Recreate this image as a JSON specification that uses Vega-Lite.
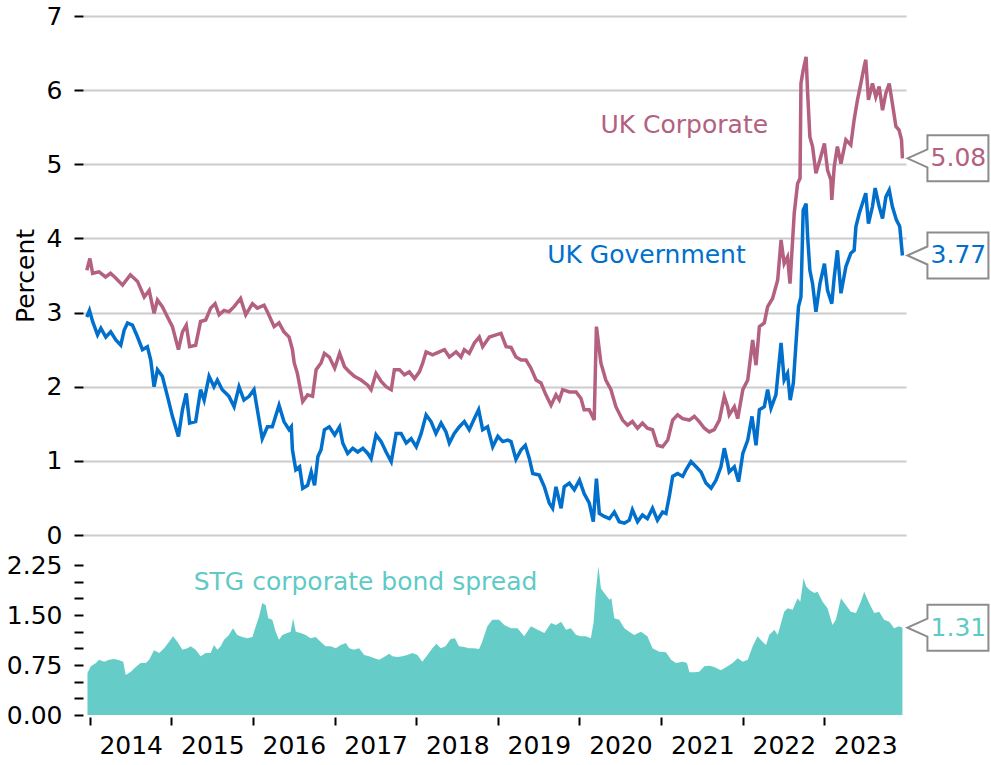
{
  "$schema": "https://vega.github.io/schema/vega-lite/v6.json",
  "background": "white",
  "padding": {"left": 6, "top": 4, "right": 0, "bottom": 0},
  "bounds": "flush",
  "spacing": 30,
  "config": {
    "view": {"stroke": null},
    "font": "DejaVu Sans",
    "axis": {
      "domain": false,
      "tickColor": "black",
      "tickWidth": 2,
      "labelColor": "black",
      "labelFontSize": 25,
      "titleColor": "black",
      "titleFontSize": 25,
      "titleFontWeight": "normal",
      "grid": false
    }
  },
  "datasets": {
    "corp": [
      {"date":"2013-12-19","value":3.57},{"date":"2014-01-02","value":3.73},{"date":"2014-01-14","value":3.53},{"date":"2014-02-12","value":3.55},{"date":"2014-03-13","value":3.48},{"date":"2014-04-04","value":3.53},{"date":"2014-04-26","value":3.47},{"date":"2014-05-28","value":3.37},{"date":"2014-07-02","value":3.51},{"date":"2014-08-03","value":3.42},{"date":"2014-09-02","value":3.21},{"date":"2014-09-24","value":3.30},{"date":"2014-10-16","value":2.99},{"date":"2014-10-31","value":3.17},{"date":"2014-11-22","value":3.08},{"date":"2014-12-15","value":2.94},
      {"date":"2015-01-06","value":2.81},{"date":"2015-02-02","value":2.50},{"date":"2015-02-20","value":2.74},{"date":"2015-03-09","value":2.83},{"date":"2015-03-24","value":2.54},{"date":"2015-04-20","value":2.56},{"date":"2015-05-12","value":2.88},{"date":"2015-06-04","value":2.90},{"date":"2015-06-26","value":3.06},{"date":"2015-07-16","value":3.12},{"date":"2015-08-03","value":2.97},{"date":"2015-08-25","value":3.03},{"date":"2015-09-16","value":3.01},{"date":"2015-10-09","value":3.08},{"date":"2015-11-07","value":3.19},{"date":"2015-11-30","value":2.97},{"date":"2015-12-30","value":3.12},
      {"date":"2016-01-21","value":3.06},{"date":"2016-02-20","value":3.10},{"date":"2016-03-06","value":3.01},{"date":"2016-04-05","value":2.81},{"date":"2016-04-27","value":2.86},{"date":"2016-05-19","value":2.74},{"date":"2016-06-11","value":2.67},{"date":"2016-06-26","value":2.50},{"date":"2016-07-04","value":2.32},{"date":"2016-07-18","value":2.18},{"date":"2016-08-11","value":1.80},{"date":"2016-09-02","value":1.89},{"date":"2016-09-24","value":1.87},{"date":"2016-10-10","value":2.23},{"date":"2016-11-01","value":2.32},{"date":"2016-11-16","value":2.45},{"date":"2016-12-08","value":2.40},
      {"date":"2017-01-01","value":2.25},{"date":"2017-01-23","value":2.45},{"date":"2017-02-14","value":2.27},{"date":"2017-03-08","value":2.20},{"date":"2017-03-30","value":2.14},{"date":"2017-04-29","value":2.09},{"date":"2017-05-29","value":2.02},{"date":"2017-06-13","value":1.96},{"date":"2017-07-05","value":2.18},{"date":"2017-07-28","value":2.07},{"date":"2017-08-19","value":2.00},{"date":"2017-09-11","value":1.96},{"date":"2017-09-25","value":2.23},{"date":"2017-10-18","value":2.23},{"date":"2017-11-09","value":2.16},{"date":"2017-12-01","value":2.20},{"date":"2017-12-24","value":2.11},
      {"date":"2018-01-15","value":2.20},{"date":"2018-01-30","value":2.32},{"date":"2018-02-14","value":2.47},{"date":"2018-03-15","value":2.43},{"date":"2018-04-14","value":2.47},{"date":"2018-05-07","value":2.50},{"date":"2018-05-29","value":2.40},{"date":"2018-06-28","value":2.47},{"date":"2018-07-20","value":2.40},{"date":"2018-08-04","value":2.50},{"date":"2018-08-26","value":2.45},{"date":"2018-09-18","value":2.59},{"date":"2018-10-10","value":2.67},{"date":"2018-10-25","value":2.54},{"date":"2018-11-24","value":2.67},{"date":"2018-12-24","value":2.70},
      {"date":"2019-01-15","value":2.72},{"date":"2019-02-07","value":2.54},{"date":"2019-03-01","value":2.53},{"date":"2019-03-23","value":2.40},{"date":"2019-04-15","value":2.36},{"date":"2019-05-07","value":2.36},{"date":"2019-05-29","value":2.25},{"date":"2019-06-21","value":2.09},{"date":"2019-07-13","value":2.05},{"date":"2019-08-04","value":1.89},{"date":"2019-08-27","value":1.75},{"date":"2019-09-18","value":1.89},{"date":"2019-10-03","value":1.82},{"date":"2019-10-18","value":1.96},{"date":"2019-11-17","value":1.93},{"date":"2019-12-17","value":1.93},
      {"date":"2020-01-08","value":1.84},{"date":"2020-01-22","value":1.69},{"date":"2020-02-14","value":1.69},{"date":"2020-02-28","value":1.60},{"date":"2020-03-07","value":1.55},{"date":"2020-03-17","value":2.81},{"date":"2020-04-06","value":2.32},{"date":"2020-04-28","value":2.09},{"date":"2020-05-21","value":1.96},{"date":"2020-06-12","value":1.73},{"date":"2020-07-12","value":1.55},{"date":"2020-08-03","value":1.48},{"date":"2020-08-25","value":1.53},{"date":"2020-09-17","value":1.44},{"date":"2020-10-09","value":1.51},{"date":"2020-10-31","value":1.44},{"date":"2020-11-23","value":1.42},{"date":"2020-12-15","value":1.21},
      {"date":"2021-01-07","value":1.19},{"date":"2021-01-30","value":1.28},{"date":"2021-02-21","value":1.55},{"date":"2021-03-15","value":1.62},{"date":"2021-04-07","value":1.57},{"date":"2021-05-07","value":1.55},{"date":"2021-05-29","value":1.60},{"date":"2021-06-20","value":1.53},{"date":"2021-07-13","value":1.44},{"date":"2021-08-04","value":1.39},{"date":"2021-08-26","value":1.42},{"date":"2021-09-18","value":1.55},{"date":"2021-10-10","value":1.87},{"date":"2021-10-25","value":1.73},{"date":"2021-11-01","value":1.62},{"date":"2021-11-24","value":1.73},{"date":"2021-12-09","value":1.57},
      {"date":"2022-01-01","value":1.96},{"date":"2022-01-23","value":2.09},{"date":"2022-02-14","value":2.63},{"date":"2022-03-01","value":2.29},{"date":"2022-03-16","value":2.81},{"date":"2022-04-07","value":2.86},{"date":"2022-04-22","value":3.08},{"date":"2022-05-14","value":3.19},{"date":"2022-06-06","value":3.44},{"date":"2022-06-21","value":3.98},{"date":"2022-07-05","value":3.66},{"date":"2022-07-20","value":3.75},{"date":"2022-07-31","value":3.39},{"date":"2022-08-19","value":4.34},{"date":"2022-09-03","value":4.74},{"date":"2022-09-14","value":4.81},{"date":"2022-09-18","value":6.09},{"date":"2022-09-28","value":6.27},{"date":"2022-10-11","value":6.45},{"date":"2022-10-18","value":5.96},{"date":"2022-10-28","value":5.37},{"date":"2022-11-09","value":5.24},{"date":"2022-11-24","value":4.88},{"date":"2022-12-12","value":5.06},
      {"date":"2023-01-01","value":5.28},{"date":"2023-01-15","value":4.92},{"date":"2023-01-30","value":4.79},{"date":"2023-02-03","value":4.52},{"date":"2023-02-14","value":4.97},{"date":"2023-02-28","value":5.24},{"date":"2023-03-16","value":5.01},{"date":"2023-04-07","value":5.33},{"date":"2023-04-29","value":5.26},{"date":"2023-05-14","value":5.60},{"date":"2023-05-29","value":5.87},{"date":"2023-06-13","value":6.09},{"date":"2023-06-28","value":6.32},{"date":"2023-07-05","value":6.41},{"date":"2023-07-17","value":5.87},{"date":"2023-08-04","value":6.09},{"date":"2023-08-19","value":5.91},{"date":"2023-09-03","value":6.05},{"date":"2023-09-18","value":5.73},{"date":"2023-10-03","value":5.96},{"date":"2023-10-18","value":6.09},{"date":"2023-11-01","value":5.82},{"date":"2023-11-17","value":5.51},{"date":"2023-12-01","value":5.46},{"date":"2023-12-12","value":5.33},{"date":"2023-12-16","value":5.08}
    ],
    "gov": [
      {"date":"2013-12-19","value":2.94},{"date":"2013-12-31","value":3.03},{"date":"2014-01-14","value":2.88},{"date":"2014-02-05","value":2.70},{"date":"2014-02-20","value":2.79},{"date":"2014-03-14","value":2.67},{"date":"2014-04-05","value":2.74},{"date":"2014-04-28","value":2.63},{"date":"2014-05-20","value":2.56},{"date":"2014-06-04","value":2.76},{"date":"2014-06-19","value":2.86},{"date":"2014-07-11","value":2.83},{"date":"2014-08-03","value":2.67},{"date":"2014-08-25","value":2.50},{"date":"2014-09-16","value":2.54},{"date":"2014-10-01","value":2.36},{"date":"2014-10-16","value":2.00},{"date":"2014-10-31","value":2.23},{"date":"2014-11-22","value":2.14},{"date":"2014-12-15","value":1.87},
      {"date":"2015-01-06","value":1.60},{"date":"2015-02-02","value":1.33},{"date":"2015-02-20","value":1.69},{"date":"2015-03-09","value":1.91},{"date":"2015-03-24","value":1.51},{"date":"2015-04-20","value":1.53},{"date":"2015-05-12","value":1.96},{"date":"2015-05-28","value":1.82},{"date":"2015-06-19","value":2.14},{"date":"2015-07-11","value":2.00},{"date":"2015-07-26","value":2.09},{"date":"2015-08-17","value":1.96},{"date":"2015-09-16","value":1.87},{"date":"2015-10-09","value":1.73},{"date":"2015-10-31","value":2.00},{"date":"2015-11-22","value":1.82},{"date":"2015-12-15","value":1.87},
      {"date":"2016-01-06","value":1.96},{"date":"2016-01-21","value":1.69},{"date":"2016-02-12","value":1.30},{"date":"2016-03-06","value":1.46},{"date":"2016-03-28","value":1.46},{"date":"2016-04-27","value":1.75},{"date":"2016-05-19","value":1.53},{"date":"2016-06-11","value":1.42},{"date":"2016-06-21","value":1.46},{"date":"2016-06-26","value":1.15},{"date":"2016-07-11","value":0.88},{"date":"2016-07-28","value":0.92},{"date":"2016-08-11","value":0.63},{"date":"2016-09-02","value":0.67},{"date":"2016-09-18","value":0.85},{"date":"2016-10-03","value":0.67},{"date":"2016-10-18","value":1.06},{"date":"2016-11-01","value":1.15},{"date":"2016-11-16","value":1.42},{"date":"2016-12-08","value":1.46},
      {"date":"2017-01-01","value":1.35},{"date":"2017-01-23","value":1.46},{"date":"2017-02-06","value":1.24},{"date":"2017-02-28","value":1.10},{"date":"2017-03-23","value":1.17},{"date":"2017-04-14","value":1.12},{"date":"2017-05-07","value":1.17},{"date":"2017-05-29","value":1.10},{"date":"2017-06-13","value":1.03},{"date":"2017-07-05","value":1.35},{"date":"2017-07-28","value":1.26},{"date":"2017-08-19","value":1.12},{"date":"2017-09-11","value":0.99},{"date":"2017-10-03","value":1.37},{"date":"2017-10-25","value":1.37},{"date":"2017-11-17","value":1.24},{"date":"2017-12-09","value":1.30},
      {"date":"2018-01-01","value":1.19},{"date":"2018-01-23","value":1.37},{"date":"2018-02-14","value":1.62},{"date":"2018-03-08","value":1.53},{"date":"2018-03-30","value":1.37},{"date":"2018-04-22","value":1.51},{"date":"2018-05-14","value":1.39},{"date":"2018-05-29","value":1.24},{"date":"2018-06-20","value":1.37},{"date":"2018-07-13","value":1.46},{"date":"2018-08-04","value":1.53},{"date":"2018-08-26","value":1.42},{"date":"2018-09-18","value":1.57},{"date":"2018-10-07","value":1.69},{"date":"2018-10-25","value":1.42},{"date":"2018-11-16","value":1.46},{"date":"2018-12-09","value":1.19},
      {"date":"2019-01-01","value":1.33},{"date":"2019-01-23","value":1.26},{"date":"2019-02-14","value":1.28},{"date":"2019-03-01","value":1.26},{"date":"2019-03-23","value":1.02},{"date":"2019-04-15","value":1.15},{"date":"2019-05-04","value":1.21},{"date":"2019-05-22","value":1.03},{"date":"2019-06-06","value":0.83},{"date":"2019-07-05","value":0.81},{"date":"2019-07-28","value":0.65},{"date":"2019-08-19","value":0.43},{"date":"2019-09-03","value":0.36},{"date":"2019-09-18","value":0.65},{"date":"2019-10-11","value":0.36},{"date":"2019-10-25","value":0.65},{"date":"2019-11-17","value":0.70},{"date":"2019-12-09","value":0.61},
      {"date":"2020-01-01","value":0.74},{"date":"2020-01-22","value":0.56},{"date":"2020-02-14","value":0.43},{"date":"2020-03-03","value":0.18},{"date":"2020-03-17","value":0.76},{"date":"2020-03-30","value":0.29},{"date":"2020-04-21","value":0.25},{"date":"2020-05-14","value":0.22},{"date":"2020-06-05","value":0.31},{"date":"2020-06-27","value":0.18},{"date":"2020-07-20","value":0.16},{"date":"2020-08-11","value":0.20},{"date":"2020-08-25","value":0.34},{"date":"2020-09-17","value":0.18},{"date":"2020-10-09","value":0.27},{"date":"2020-10-31","value":0.22},{"date":"2020-11-23","value":0.36},{"date":"2020-12-15","value":0.20},
      {"date":"2021-01-07","value":0.31},{"date":"2021-01-22","value":0.29},{"date":"2021-02-06","value":0.52},{"date":"2021-02-21","value":0.79},{"date":"2021-03-15","value":0.83},{"date":"2021-04-07","value":0.79},{"date":"2021-04-22","value":0.88},{"date":"2021-05-14","value":0.99},{"date":"2021-06-06","value":0.92},{"date":"2021-06-28","value":0.85},{"date":"2021-07-20","value":0.70},{"date":"2021-08-12","value":0.63},{"date":"2021-09-03","value":0.74},{"date":"2021-09-25","value":0.92},{"date":"2021-10-10","value":1.17},{"date":"2021-10-25","value":0.97},{"date":"2021-11-01","value":0.85},{"date":"2021-11-24","value":0.92},{"date":"2021-12-13","value":0.72},
      {"date":"2022-01-01","value":1.10},{"date":"2022-01-23","value":1.28},{"date":"2022-02-11","value":1.60},{"date":"2022-03-01","value":1.21},{"date":"2022-03-16","value":1.69},{"date":"2022-04-07","value":1.73},{"date":"2022-04-22","value":1.96},{"date":"2022-05-07","value":1.71},{"date":"2022-05-29","value":1.89},{"date":"2022-06-21","value":2.59},{"date":"2022-07-05","value":2.09},{"date":"2022-07-20","value":2.18},{"date":"2022-08-01","value":1.82},{"date":"2022-08-15","value":2.05},{"date":"2022-08-27","value":2.59},{"date":"2022-09-07","value":3.08},{"date":"2022-09-18","value":3.21},{"date":"2022-09-28","value":4.38},{"date":"2022-10-11","value":4.47},{"date":"2022-10-18","value":4.02},{"date":"2022-10-28","value":3.57},{"date":"2022-11-09","value":3.39},{"date":"2022-11-24","value":3.01},{"date":"2022-12-12","value":3.39},
      {"date":"2023-01-01","value":3.66},{"date":"2023-01-15","value":3.30},{"date":"2023-02-03","value":3.12},{"date":"2023-02-14","value":3.48},{"date":"2023-02-28","value":3.84},{"date":"2023-03-16","value":3.26},{"date":"2023-04-07","value":3.62},{"date":"2023-04-29","value":3.80},{"date":"2023-05-14","value":3.84},{"date":"2023-05-22","value":4.16},{"date":"2023-06-06","value":4.34},{"date":"2023-06-20","value":4.47},{"date":"2023-07-05","value":4.61},{"date":"2023-07-17","value":4.20},{"date":"2023-08-04","value":4.43},{"date":"2023-08-16","value":4.68},{"date":"2023-09-03","value":4.43},{"date":"2023-09-18","value":4.27},{"date":"2023-10-03","value":4.56},{"date":"2023-10-18","value":4.65},{"date":"2023-11-01","value":4.43},{"date":"2023-11-19","value":4.25},{"date":"2023-12-04","value":4.16},{"date":"2023-12-16","value":3.77}
    ],
    "spread": [
      {"date":"2013-12-22","value":0.63},{"date":"2014-01-06","value":0.73},{"date":"2014-01-29","value":0.78},{"date":"2014-02-12","value":0.83},{"date":"2014-03-07","value":0.80},{"date":"2014-03-29","value":0.83},{"date":"2014-04-20","value":0.84},{"date":"2014-05-13","value":0.82},{"date":"2014-05-31","value":0.80},{"date":"2014-06-11","value":0.60},{"date":"2014-07-04","value":0.65},{"date":"2014-07-26","value":0.72},{"date":"2014-08-17","value":0.78},{"date":"2014-09-09","value":0.78},{"date":"2014-09-24","value":0.83},{"date":"2014-10-16","value":0.97},{"date":"2014-11-08","value":0.93},{"date":"2014-11-30","value":1.00},{"date":"2014-12-22","value":1.10},
      {"date":"2015-01-09","value":1.18},{"date":"2015-01-28","value":1.10},{"date":"2015-02-20","value":0.98},{"date":"2015-03-14","value":1.00},{"date":"2015-03-29","value":1.03},{"date":"2015-04-20","value":0.98},{"date":"2015-05-12","value":0.88},{"date":"2015-06-04","value":0.93},{"date":"2015-06-26","value":0.93},{"date":"2015-07-11","value":1.05},{"date":"2015-07-26","value":0.98},{"date":"2015-08-10","value":1.03},{"date":"2015-08-25","value":1.13},{"date":"2015-09-16","value":1.20},{"date":"2015-10-04","value":1.30},{"date":"2015-10-23","value":1.20},{"date":"2015-11-15","value":1.17},{"date":"2015-12-07","value":1.15},{"date":"2015-12-30","value":1.17},
      {"date":"2016-01-14","value":1.33},{"date":"2016-01-29","value":1.48},{"date":"2016-02-12","value":1.68},{"date":"2016-02-27","value":1.65},{"date":"2016-03-10","value":1.45},{"date":"2016-03-28","value":1.43},{"date":"2016-04-12","value":1.25},{"date":"2016-04-27","value":1.13},{"date":"2016-05-12","value":1.20},{"date":"2016-06-03","value":1.23},{"date":"2016-06-18","value":1.25},{"date":"2016-06-29","value":1.45},{"date":"2016-07-11","value":1.25},{"date":"2016-08-02","value":1.23},{"date":"2016-08-24","value":1.20},{"date":"2016-09-15","value":1.15},{"date":"2016-10-08","value":1.17},{"date":"2016-10-30","value":1.10},{"date":"2016-11-21","value":1.03},{"date":"2016-12-14","value":1.03},
      {"date":"2017-01-06","value":1.00},{"date":"2017-01-28","value":1.05},{"date":"2017-02-20","value":1.08},{"date":"2017-03-07","value":1.00},{"date":"2017-03-29","value":0.98},{"date":"2017-04-20","value":1.00},{"date":"2017-05-13","value":0.90},{"date":"2017-06-04","value":0.88},{"date":"2017-06-27","value":0.85},{"date":"2017-07-19","value":0.83},{"date":"2017-08-10","value":0.87},{"date":"2017-09-02","value":0.92},{"date":"2017-09-16","value":0.88},{"date":"2017-10-09","value":0.87},{"date":"2017-10-31","value":0.88},{"date":"2017-11-22","value":0.90},{"date":"2017-12-15","value":0.93},
      {"date":"2018-01-06","value":0.90},{"date":"2018-01-28","value":0.80},{"date":"2018-02-20","value":0.90},{"date":"2018-03-14","value":1.00},{"date":"2018-04-01","value":1.07},{"date":"2018-04-20","value":1.00},{"date":"2018-05-12","value":1.03},{"date":"2018-06-04","value":1.14},{"date":"2018-06-23","value":1.15},{"date":"2018-07-11","value":1.03},{"date":"2018-08-03","value":1.02},{"date":"2018-08-25","value":1.00},{"date":"2018-09-16","value":1.00},{"date":"2018-10-09","value":0.99},{"date":"2018-10-23","value":1.10},{"date":"2018-11-15","value":1.33},{"date":"2018-12-07","value":1.43},
      {"date":"2019-01-06","value":1.43},{"date":"2019-01-30","value":1.35},{"date":"2019-03-01","value":1.30},{"date":"2019-03-30","value":1.30},{"date":"2019-04-29","value":1.18},{"date":"2019-05-29","value":1.33},{"date":"2019-06-28","value":1.28},{"date":"2019-07-28","value":1.23},{"date":"2019-08-27","value":1.38},{"date":"2019-09-18","value":1.35},{"date":"2019-10-11","value":1.40},{"date":"2019-11-02","value":1.28},{"date":"2019-11-24","value":1.30},{"date":"2019-12-17","value":1.20},
      {"date":"2020-01-08","value":1.18},{"date":"2020-01-30","value":1.18},{"date":"2020-02-21","value":1.15},{"date":"2020-03-04","value":1.38},{"date":"2020-03-15","value":1.88},{"date":"2020-03-26","value":2.23},{"date":"2020-04-06","value":1.90},{"date":"2020-04-21","value":1.83},{"date":"2020-05-14","value":1.73},{"date":"2020-05-23","value":1.75},{"date":"2020-06-05","value":1.45},{"date":"2020-06-27","value":1.43},{"date":"2020-07-20","value":1.30},{"date":"2020-08-11","value":1.25},{"date":"2020-09-02","value":1.20},{"date":"2020-10-02","value":1.25},{"date":"2020-10-31","value":1.18},{"date":"2020-11-23","value":1.00},{"date":"2020-12-23","value":0.95},
      {"date":"2021-01-22","value":0.94},{"date":"2021-02-14","value":0.83},{"date":"2021-03-08","value":0.78},{"date":"2021-04-07","value":0.80},{"date":"2021-04-26","value":0.78},{"date":"2021-05-07","value":0.64},{"date":"2021-05-29","value":0.64},{"date":"2021-06-20","value":0.65},{"date":"2021-07-13","value":0.73},{"date":"2021-08-04","value":0.74},{"date":"2021-08-26","value":0.72},{"date":"2021-09-25","value":0.67},{"date":"2021-10-25","value":0.73},{"date":"2021-11-16","value":0.78},{"date":"2021-12-09","value":0.85},
      {"date":"2022-01-01","value":0.80},{"date":"2022-01-23","value":0.83},{"date":"2022-02-14","value":1.03},{"date":"2022-03-08","value":1.18},{"date":"2022-03-30","value":1.10},{"date":"2022-04-15","value":1.05},{"date":"2022-04-29","value":1.20},{"date":"2022-05-22","value":1.28},{"date":"2022-06-06","value":1.20},{"date":"2022-06-21","value":1.38},{"date":"2022-07-05","value":1.55},{"date":"2022-07-20","value":1.60},{"date":"2022-08-12","value":1.58},{"date":"2022-09-03","value":1.75},{"date":"2022-09-15","value":1.70},{"date":"2022-09-30","value":2.05},{"date":"2022-10-11","value":1.93},{"date":"2022-10-25","value":1.88},{"date":"2022-11-17","value":1.83},{"date":"2022-12-01","value":1.85},{"date":"2022-12-24","value":1.70},
      {"date":"2023-01-15","value":1.60},{"date":"2023-02-06","value":1.35},{"date":"2023-02-21","value":1.43},{"date":"2023-03-16","value":1.75},{"date":"2023-04-07","value":1.65},{"date":"2023-04-29","value":1.55},{"date":"2023-05-22","value":1.53},{"date":"2023-06-13","value":1.70},{"date":"2023-06-28","value":1.85},{"date":"2023-07-20","value":1.68},{"date":"2023-08-12","value":1.53},{"date":"2023-09-03","value":1.55},{"date":"2023-09-25","value":1.43},{"date":"2023-10-18","value":1.40},{"date":"2023-11-09","value":1.30},{"date":"2023-12-01","value":1.33},{"date":"2023-12-16","value":1.31}
    ],
    "endsTop": [
      {"date":"2023-12-16","value":5.08,"label":"5.08","series":"UK Corporate"},
      {"date":"2023-12-16","value":3.77,"label":"3.77","series":"UK Government"}
    ],
    "endsBottom": [
      {"date":"2023-12-16","value":1.31,"label":"1.31","series":"STG corporate bond spread"}
    ],
    "one": [{}]
  },
  "vconcat": [
    {
      "width": 823,
      "height": 519,
      "layer": [
        {
          "data": {"name": "corp"},
          "mark": {"type": "line", "color": "#B46080", "strokeWidth": 3.5},
          "encoding": {
            "x": {"field": "date", "type": "temporal", "axis": null,
                  "scale": {"domain": [{"year": 2013, "month": 12, "date": 2}, {"year": 2024, "month": 1, "date": 1}]}},
            "y": {"field": "value", "type": "quantitative",
                  "scale": {"domain": [0, 7], "nice": false},
                  "axis": {"title": "Percent", "values": [0,1,2,3,4,5,6,7], "tickCount": 20, "format": "d", "grid": true, "gridColor": "#cccccc", "gridWidth": 2,
                           "tickSize": 9, "labelPadding": 12, "titlePadding": 8}}
          }
        },
        {
          "data": {"name": "gov"},
          "mark": {"type": "line", "color": "#0070CC", "strokeWidth": 3.5},
          "encoding": {
            "x": {"field": "date", "type": "temporal"},
            "y": {"field": "value", "type": "quantitative"}
          }
        },
        {
          "data": {"name": "one"},
          "mark": {"type": "text", "text": "UK Corporate", "color": "#B46080", "fontSize": 25, "align": "center", "baseline": "middle"},
          "encoding": {
            "x": {"datum": {"year": 2021, "month": 4, "date": 14}, "type": "temporal"},
            "y": {"datum": 5.53, "type": "quantitative"}
          }
        },
        {
          "data": {"name": "one"},
          "mark": {"type": "text", "text": "UK Government", "color": "#0070CC", "fontSize": 25, "align": "center", "baseline": "middle"},
          "encoding": {
            "x": {"datum": {"year": 2020, "month": 10, "date": 27}, "type": "temporal"},
            "y": {"datum": 3.78, "type": "quantitative"}
          }
        },
        {
          "data": {"name": "endsTop"},
          "mark": {"type": "point", "shape": "M0.1,0 L0.5,-0.18 L0.5,-0.46 L1.72,-0.46 L1.72,0.46 L0.5,0.46 L0.5,0.18 Z",
                   "size": 10000, "filled": true, "fill": "white", "fillOpacity": 1, "stroke": "#8C8C8C", "strokeWidth": 2, "opacity": 1},
          "encoding": {
            "x": {"field": "date", "type": "temporal"},
            "y": {"field": "value", "type": "quantitative"}
          }
        },
        {
          "data": {"name": "endsTop"},
          "mark": {"type": "text", "fontSize": 25, "align": "center", "baseline": "middle", "dx": 56},
          "encoding": {
            "x": {"field": "date", "type": "temporal"},
            "y": {"field": "value", "type": "quantitative"},
            "text": {"field": "label"},
            "color": {"field": "series", "type": "nominal", "legend": null,
                      "scale": {"domain": ["UK Corporate", "UK Government"], "range": ["#B46080", "#0070CC"]}}
          }
        }
      ]
    },
    {
      "width": 823,
      "height": 150,
      "layer": [
        {
          "data": {"name": "spread"},
          "mark": {"type": "area", "color": "#66CCC8", "opacity": 1},
          "encoding": {
            "x": {"field": "date", "type": "temporal",
                  "scale": {"domain": [{"year": 2013, "month": 12, "date": 2}, {"year": 2024, "month": 1, "date": 1}]},
                  "axis": {"title": null, "format": "%Y", "labelOffset": 41, "labelFlush": false, "labelOverlap": false, "labelBound": false,
                           "tickSize": 8, "offset": 2, "labelPadding": 8, "tickCount": 30,
                           "values": [{"year":2014,"month":1,"date":1},{"year":2015,"month":1,"date":1},{"year":2016,"month":1,"date":1},{"year":2017,"month":1,"date":1},{"year":2018,"month":1,"date":1},{"year":2019,"month":1,"date":1},{"year":2020,"month":1,"date":1},{"year":2021,"month":1,"date":1},{"year":2022,"month":1,"date":1},{"year":2023,"month":1,"date":1}]}},
            "y": {"field": "value", "type": "quantitative", "stack": null,
                  "scale": {"domain": [0, 2.25], "nice": false, "zero": true},
                  "axis": {"title": null, "values": [0,0.25,0.5,0.75,1,1.25,1.5,1.75,2,2.25], "tickCount": 20, "tickSize": 9, "labelPadding": 12, "labelOverlap": false, "labelBound": false, "labelFlush": false,
                           "labelExpr": "indexof(['0.00','0.75','1.50','2.25'], format(datum.value, '.2f')) >= 0 ? format(datum.value, '.2f') : ''"}}
          }
        },
        {
          "data": {"name": "one"},
          "mark": {"type": "text", "text": "STG corporate bond spread", "color": "#5FCAC5", "fontSize": 25, "align": "center", "baseline": "middle"},
          "encoding": {
            "x": {"datum": {"year": 2017, "month": 5, "date": 19}, "type": "temporal"},
            "y": {"datum": 2.0, "type": "quantitative"}
          }
        },
        {
          "data": {"name": "endsBottom"},
          "mark": {"type": "point", "shape": "M0.1,0 L0.5,-0.18 L0.5,-0.46 L1.72,-0.46 L1.72,0.46 L0.5,0.46 L0.5,0.18 Z",
                   "size": 10000, "filled": true, "fill": "white", "fillOpacity": 1, "stroke": "#8C8C8C", "strokeWidth": 2, "opacity": 1},
          "encoding": {
            "x": {"field": "date", "type": "temporal"},
            "y": {"field": "value", "type": "quantitative"}
          }
        },
        {
          "data": {"name": "endsBottom"},
          "mark": {"type": "text", "fontSize": 25, "align": "center", "baseline": "middle", "dx": 56, "color": "#5FCAC5"},
          "encoding": {
            "x": {"field": "date", "type": "temporal"},
            "y": {"field": "value", "type": "quantitative"},
            "text": {"field": "label"}
          }
        }
      ]
    }
  ]
}
